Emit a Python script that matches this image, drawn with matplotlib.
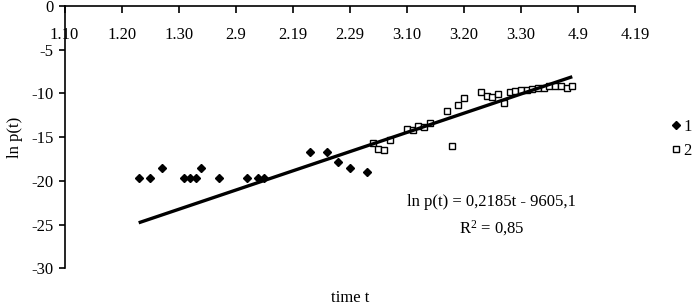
import numpy as np
import matplotlib.pyplot as plt

# =========================
# DATA (days counted from 1.10)
# =========================
tick_labels = ["1.10", "1.20", "1.30", "2.9", "2.19", "2.29",
               "3.10", "3.20", "3.30", "4.9", "4.19"]
tick_days = [0, 10, 20, 30, 40, 50, 60, 70, 80, 90, 100]

days_1 = [13, 15, 17, 21, 22, 23, 24, 27, 32, 34, 35, 43, 46, 48, 50, 53]
lnp_1 = [-19.7, -19.7, -18.5, -19.7, -19.7, -19.7, -18.5, -19.7,
         -19.7, -19.7, -19.7, -16.7, -16.7, -17.9, -18.5, -19.0]

days_2 = [54, 55, 56, 57, 60, 61, 62, 63, 64, 67, 68, 69, 70, 73, 74,
          75, 76, 77, 78, 79, 80, 81, 82, 83, 84, 85, 86, 87, 88, 89]
lnp_2 = [-15.7, -16.4, -16.5, -15.3, -14.1, -14.2, -13.7, -13.9, -13.4,
         -12.0, -16.0, -11.3, -10.5, -9.8, -10.3, -10.4, -10.1, -11.1,
         -9.8, -9.7, -9.6, -9.6, -9.5, -9.4, -9.4, -9.2, -9.2, -9.2,
         -9.4, -9.2]

# trend line as drawn in the chart (ends)
trend_days = [13, 89]
trend_lnp = [-24.8, -8.1]

equation = "ln p(t) = 0,2185t - 9605,1"
r2_text = "R$^2$ = 0,85"

# =========================
# PLOT
# =========================
plt.rcParams['font.family'] = ['Liberation Serif', 'DejaVu Serif']
plt.rcParams['font.size'] = 12
plt.rcParams['axes.unicode_minus'] = False
plt.rcParams['mathtext.fontset'] = 'custom'
plt.rcParams['mathtext.rm'] = 'Liberation Serif'
plt.rcParams['mathtext.it'] = 'Liberation Serif:italic'
plt.rcParams['mathtext.default'] = 'regular'

fig = plt.figure(figsize=(6.96, 3.08), dpi=100)
ax = fig.add_axes([0.0927, 0.129, 0.8197, 0.852])

ax.plot(days_1, lnp_1, "D", color="black", markersize=4.3, label="1")
ax.plot(days_2, lnp_2, "s", markerfacecolor="white", markeredgecolor="black",
        markersize=4.8, markeredgewidth=1.0, label="2")
ax.plot(trend_days, trend_lnp, color="black", lw=2.4, solid_capstyle="butt")

ax.set_xlim(0, 100)
ax.set_ylim(-30, 0)
ax.set_xticks(tick_days)
ax.set_xticklabels(tick_labels)
ax.set_yticks(np.arange(-30, 1, 5))

for s in ["right", "bottom"]:
    ax.spines[s].set_visible(False)
for s in ["left", "top"]:
    ax.spines[s].set_linewidth(1.2)

ax.xaxis.tick_top()
ax.tick_params(axis="x", direction="in", length=5, width=1.2, pad=-27)
ax.tick_params(axis="y", direction="out", length=4, width=1.2, pad=4)

ax.xaxis.set_label_position("bottom")
ax.set_xlabel("time t", labelpad=16)
ax.set_ylabel("ln p(t)", labelpad=6)

ax.text(0.7486, 0.254, equation, transform=ax.transAxes,
        ha="center", va="center")
ax.text(0.7486, 0.154, r2_text, transform=ax.transAxes,
        ha="center", va="center")

fig.legend(loc="center left", bbox_to_anchor=(0.964, 0.549), frameon=False,
           handlelength=0.6, handletextpad=0.15, labelspacing=0.5,
           borderpad=0, borderaxespad=0, numpoints=1)

fig.savefig("out.png", dpi=100)
